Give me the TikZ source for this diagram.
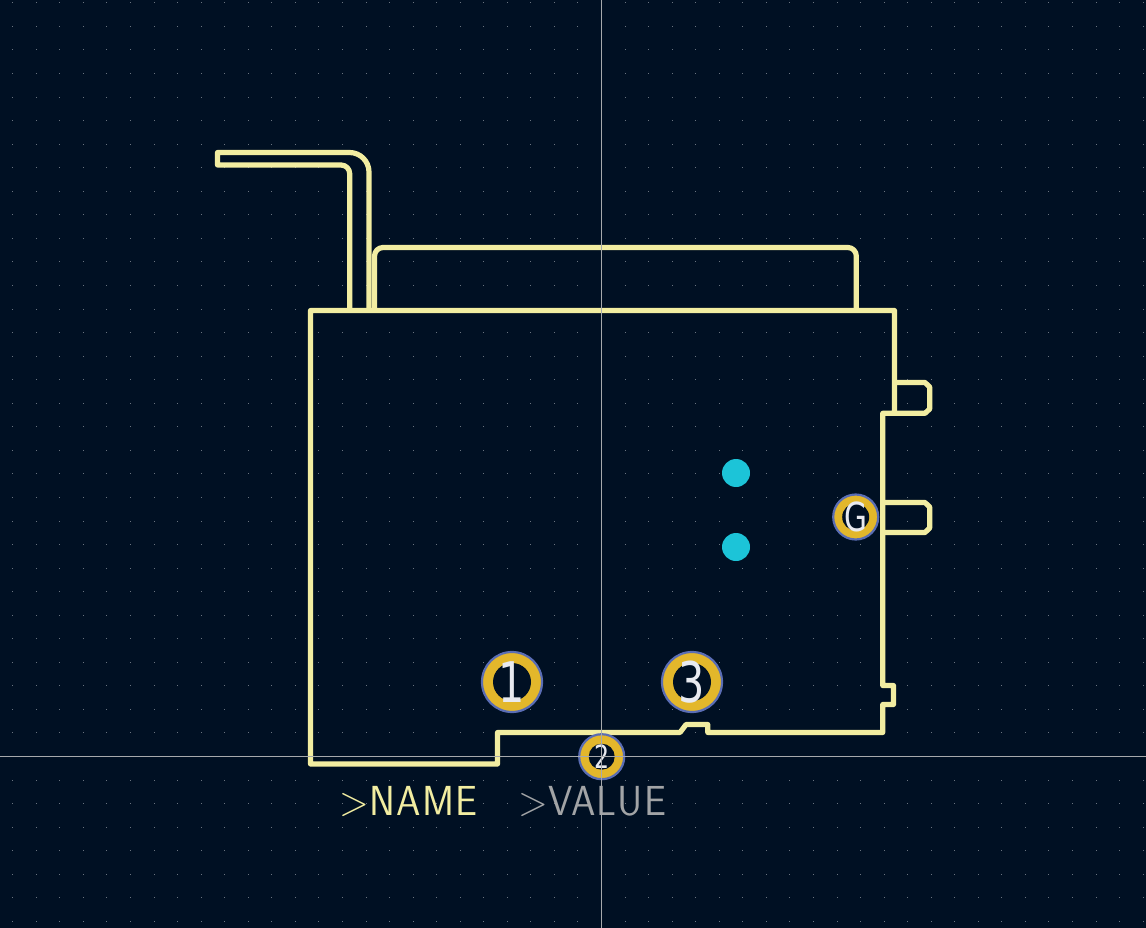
\documentclass[tikz,border=0pt]{standalone}
\usepackage{fontspec}
\newfontfamily\strokefont[LetterSpace=2.5,FakeStretch=0.93]{Latin Modern Sans}
\newfontfamily\padfont[FakeStretch=0.74]{DejaVu Sans}
\definecolor{boardbg}{HTML}{001023}
\definecolor{silk}{HTML}{F2EDA1}
\definecolor{griddot}{HTML}{6A7480}
\definecolor{crossline}{HTML}{A6A9AC}
\definecolor{padgold}{HTML}{E3B72B}
\definecolor{padblue}{HTML}{5A6DB4}
\definecolor{padtext}{HTML}{E8EAF0}
\definecolor{drillcyan}{HTML}{1CC4D8}
\definecolor{valuegrey}{HTML}{A2A4A6}
\tikzset{
  outline/.style={draw=silk,line width=5.2pt,line join=round},
  padring/.style={circle,fill=padgold,draw=padblue,line width=2.2pt,inner sep=0pt},
  padhole/.style={circle,fill=boardbg,inner sep=0pt},
  padlabel/.style={inner sep=0pt,text=padtext},
  drill/.style={circle,fill=drillcyan,inner sep=0pt,minimum size=28pt},
  reftext/.style={inner sep=0pt,anchor=base west}
}
\begin{document}
\begin{tikzpicture}[x=1pt,y=-1pt]
\fill[boardbg,use as bounding box] (0,0) rectangle (1146,928);

\foreach \i in {-26,...,23}
  \foreach \j in {-32,...,7}
    \fill[griddot] ({601.5+\i*23.55-0.5},{756.5+\j*23.55-0.5}) rectangle +(1,1);

% body
\draw[outline] (310.5,310.5) -- (894.5,310.5) -- (894.5,413.3) -- (882.7,413.3)
  -- (882.7,685.5) -- (893.5,685.5) -- (893.5,704.5) -- (882.7,704.5)
  -- (882.7,732.5) -- (707.8,732.5) -- (707.8,724.5) -- (686,724.5)
  -- (680,732.5) -- (497.5,732.5) -- (497.5,764) -- (310.5,764) -- cycle;

% side tabs
\draw[outline] (894.5,382.5) -- (925,382.5) -- (929.7,387) -- (929.7,409)
  -- (925,413.3) -- (894.5,413.3);
\draw[outline] (882.7,502.5) -- (925,502.5) -- (929.7,507) -- (929.7,528)
  -- (925,532.5) -- (882.7,532.5);

% bent lead
\draw[outline] (369,310.5) -- (369,172) arc (0:-90:19.5) -- (217.5,152.5)
  -- (217.5,165) -- (341,165) arc (-90:0:8.7) -- (349.7,310.5);

% top cover
\draw[outline] (374.5,310.5) -- (374.5,256) arc (180:270:8.5) -- (847.8,247.5)
  arc (-90:0:8.5) -- (856.3,310.5);

\node[drill] (drilla) at (736,473) {};
\node[drill] (drillb) at (736,547) {};

\node[padring,minimum size=60pt] (padone) at (512,682) {};
\node[padhole,minimum size=38pt] at (padone) {};
\node[padlabel,font=\padfont\fontsize{56}{56}\selectfont] at (padone) {1};
\node[padring,minimum size=45pt] (padtwo) at (601.7,756.7) {};
\node[padhole,minimum size=26pt] at (padtwo) {};
\node[padlabel,font=\padfont\fontsize{32}{32}\selectfont] at (padtwo) {2};
\node[padring,minimum size=45pt] (padg) at (855.7,517) {};
\node[padhole,minimum size=27pt] at (padg) {};
\node[padlabel,font=\padfont\fontsize{40}{40}\selectfont] at (padg) {G};
\node[padring,minimum size=60pt] (padthree) at (692,682) {};
\node[padhole,minimum size=38pt] at (padthree) {};
\node[padlabel,font=\padfont\fontsize{56}{56}\selectfont] at (padthree) {3};

\node[reftext,text=silk,font=\strokefont\fontsize{42}{42}\selectfont] (refname) at (339,815) {>NAME};
\node[reftext,text=valuegrey,font=\strokefont\fontsize{42}{42}\selectfont] (refvalue) at (518,815) {>VALUE};

\draw[crossline,line width=0.8pt] (601.5,0) -- (601.5,928);
\draw[crossline,line width=0.8pt] (0,756.5) -- (1146,756.5);
\end{tikzpicture}
\end{document}
